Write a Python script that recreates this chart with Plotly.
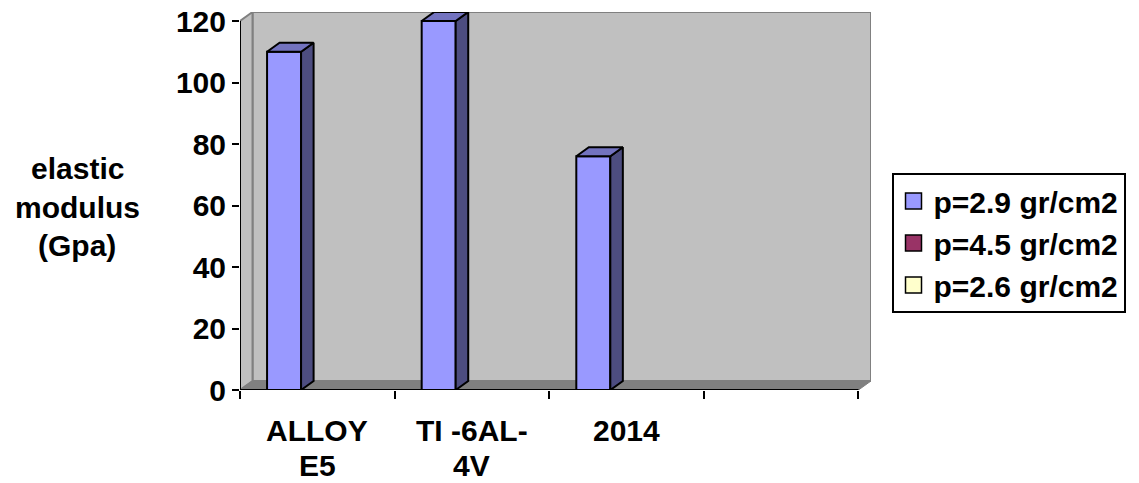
import plotly.graph_objects as go

# Datos: modulo elastico (GPa) por material
cat_labels = [["ALLOY", "E5"], ["TI -6AL-", "4V"], ["2014"], []]
cat_pos = [0, 1, 2, 3]
modulus = [110, 120, 76]
series_names = ["p=2.9 gr/cm2", "p=4.5 gr/cm2", "p=2.6 gr/cm2"]
series_colors = ["#9999FF", "#993366", "#FFFFCC"]
y_ticks = [0, 20, 40, 60, 80, 100, 120]

FONT = dict(family="Liberation Sans, Arial, sans-serif", size=30, color="black", weight="bold")

# profundidad del efecto 3D (en unidades de datos)
DX = 0.081
DY = 2.93
BAR_OFF = -0.325
BAR_W = 0.22
YMAX = 120

fig = go.Figure()

# caras frontales de las barras
fig.add_trace(go.Bar(x=cat_pos[:3], y=modulus, width=BAR_W, offset=BAR_OFF,
                     marker=dict(color=series_colors[0], line=dict(color="black", width=2)),
                     showlegend=False, hoverinfo="skip"))

# caras laterales y superiores
side_x, side_y, top_x, top_y = [], [], [], []
for c, v in zip(cat_pos, modulus):
    l = c + BAR_OFF
    r = l + BAR_W
    side_x += [r, r + DX, r + DX, r, r, None]
    side_y += [0, DY, v + DY, v, 0, None]
    top_x += [l, r, r + DX, l + DX, l, None]
    top_y += [v, v, v + DY, v + DY, v, None]

fig.add_trace(go.Scatter(x=side_x, y=side_y, mode="lines", fill="toself", fillcolor="#4D4D80",
                         line=dict(color="black", width=2), showlegend=False, hoverinfo="skip"))
fig.add_trace(go.Scatter(x=top_x, y=top_y, mode="lines", fill="toself", fillcolor="#7373BF",
                         line=dict(color="black", width=2), showlegend=False, hoverinfo="skip"))

# entradas de leyenda
for name, col in zip(series_names, series_colors):
    fig.add_trace(go.Scatter(x=[None], y=[None], mode="markers", name=name,
                             marker=dict(symbol="square", size=16, color=col,
                                         line=dict(color="black", width=1.5))))

# paredes y suelo
x0, x1 = -0.5, 3.5
shapes = [
    dict(type="rect", xref="x", yref="y", x0=x0 + DX, x1=x1 + DX, y0=DY, y1=YMAX + DY,
         fillcolor="#C0C0C0", line=dict(color="#808080", width=2), layer="below"),
    dict(type="path", xref="x", yref="y",
         path=f"M{x0},0 L{x0 + DX},{DY} L{x0 + DX},{YMAX + DY} L{x0},{YMAX} Z",
         fillcolor="#C0C0C0", line=dict(color="#808080", width=2), layer="below"),
    dict(type="path", xref="x", yref="y",
         path=f"M{x0},0 L{x1},0 L{x1 + DX},{DY} L{x0 + DX},{DY} Z",
         fillcolor="#808080", line=dict(color="#808080", width=1), layer="below"),
    dict(type="line", xref="x", yref="y", x0=x0, x1=x0, y0=0, y1=YMAX,
         line=dict(color="black", width=2)),
    dict(type="line", xref="x", yref="y", x0=x0, x1=x1, y0=0, y1=0,
         line=dict(color="black", width=2)),
]

# etiquetas de categorias (dos lineas)
annotations = []
line_y = [-0.106, -0.2]
for c, lines in zip(cat_pos, cat_labels):
    for i, t in enumerate(lines):
        annotations.append(dict(x=c, y=line_y[i], xref="x", yref="paper", text=t,
                                showarrow=False, font=FONT, xanchor="center", yanchor="middle"))

# titulo del eje y
for t, yy in zip(["elastic", "modulus", "(Gpa)"], [0.587, 0.484, 0.381]):
    annotations.append(dict(x=-0.258, y=yy, xref="paper", yref="paper", text=t,
                            showarrow=False, font=FONT, xanchor="center", yanchor="middle"))

# la pagina tiene 8px de margen, se compensa en el tamaño
fig.update_layout(
    width=1131, height=475,
    margin=dict(l=232, r=268, t=4, b=93, autoexpand=False),
    paper_bgcolor="white", plot_bgcolor="white",
    font=FONT,
    shapes=shapes,
    annotations=annotations,
    legend=dict(x=1.0325, y=0.574, xanchor="left", yanchor="top",
                bordercolor="black", borderwidth=2, font=FONT,
                tracegroupgap=6, itemsizing="trace"),
    xaxis=dict(range=[x0, x1 + DX], tickvals=[-0.5, 0.5, 1.5, 2.5, 3.5], showticklabels=False,
               ticks="outside", ticklen=8, tickwidth=2, tickcolor="black",
               showgrid=False, zeroline=False, showline=False),
    yaxis=dict(range=[0, YMAX + DY], tickvals=y_ticks, ticks="outside", ticklen=7, tickwidth=2,
               tickcolor="black", showgrid=False, zeroline=False, showline=False,
               tickfont=FONT, ticklabeloverflow="allow"),
)

fig.write_html("out.html")
